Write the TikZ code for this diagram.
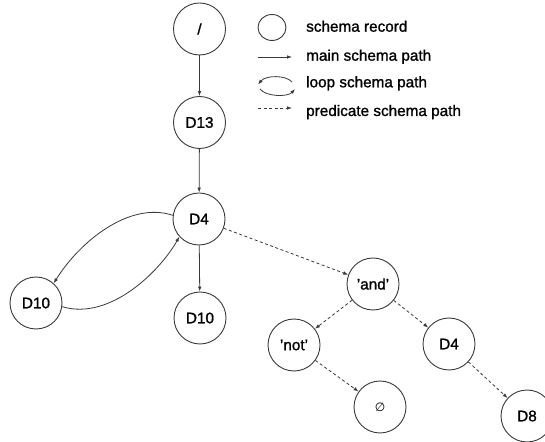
\documentclass[tikz,border=0pt]{standalone}
\usepackage{fontspec}
\setmainfont[FakeBold=1.2]{Liberation Sans}
\newfontfamily\symfont{DejaVu Sans}
\usetikzlibrary{arrows.meta,shapes.geometric}
\definecolor{ink}{HTML}{3A3A3A}
\tikzset{
  rec/.style={circle, draw=ink, line width=0.9pt, minimum size=52pt, inner sep=0pt, font=\fontsize{15.3}{18}\selectfont},
  mainpath/.style={draw=ink, line width=0.8pt, -{Latex[length=5pt,width=3.6pt]}},
  predpath/.style={draw=ink, line width=0.8pt, dash pattern=on 3pt off 2.5pt, -{Latex[length=5pt,width=3.6pt]}},
  legtext/.style={anchor=base west, inner sep=0pt, font=\fontsize{15.3}{18}\selectfont},
}
\begin{document}
\begin{tikzpicture}[x=1pt,y=1pt]
\useasboundingbox (0,0) rectangle (545,441);
\fill[white] (0,0) rectangle (545,441);
% nodes
\node[rec] (slash) at (199.5,412) {/};
\node[rec] (d13) at (199.5,318.5) {D13};
\node[rec] (d4) at (199,222) {D4};
\node[rec] (d10l) at (36,138) {D10};
\node[rec] (d10m) at (200,123) {D10};
\node[rec] (and) at (373,157) {'and'};
\node[rec] (not) at (294,96) {'not'};
\node[rec] (d4r) at (449,97) {D4};
\node[rec] (empty) at (380,34) {\symfont\fontsize{12}{14}\selectfont ∅};
\node[rec] (d8) at (527,25) {D8};
% main paths
\draw[mainpath] (slash) -- (d13);
\draw[mainpath] (d13) -- (d4);
\draw[mainpath] (d4) -- (d10m);
% loop paths
\draw[mainpath] (d4.172) .. controls (130,240) and (80,200) .. (d10l.48);
\draw[mainpath] (d10l.-8) .. controls (110,120) and (160,170) .. (d4.222);
% predicate paths
\draw[predpath] (d4) -- (and);
\draw[predpath] (and) -- (not);
\draw[predpath] (and) -- (d4r);
\draw[predpath] (not) -- (empty);
\draw[predpath] (d4r) -- (d8);
% legend
\node[draw=ink, line width=0.9pt, ellipse, minimum width=28pt, minimum height=26pt, inner sep=0pt] (legrec) at (272,413.5) {};
\coordinate (m1) at (258,384);
\coordinate (m2) at (292,384);
\draw[mainpath] (m1) -- (m2);
\coordinate (l1) at (292,359);
\coordinate (l2) at (258,356.5);
\draw[mainpath] (l1) .. controls (286,366) and (266,366) .. (l2);
\coordinate (l3) at (260,352);
\coordinate (l4) at (295,352);
\draw[mainpath] (l3) .. controls (266,344) and (288,344) .. (l4);
\coordinate (p1) at (258,333);
\coordinate (p2) at (292,333);
\draw[predpath] (p1) -- (p2);
\node[legtext] (t1) at (306,409.3) {schema record};
\node[legtext] (t2) at (306,380.3) {main schema path};
\node[legtext] (t3) at (306,353.7) {loop schema path};
\node[legtext] (t4) at (306,325) {predicate schema path};
\end{tikzpicture}
\end{document}
